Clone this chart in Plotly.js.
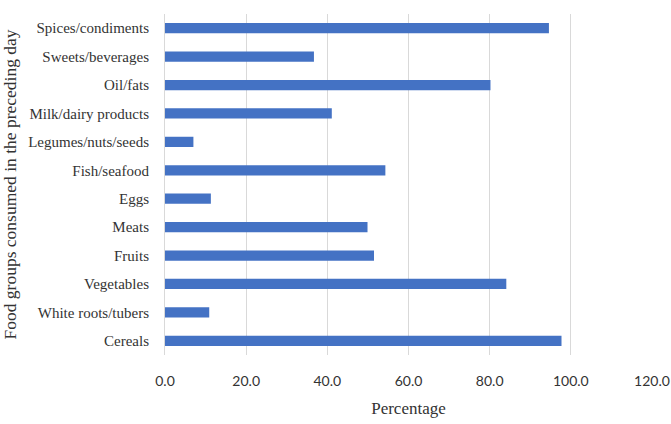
<!DOCTYPE html>
<html>
<head>
<meta charset="utf-8">
<script src="https://cdn.plot.ly/plotly-3.0.1.min.js"></script>
<style>
  html, body { margin: 0; padding: 0; background: #fff; }
  #myDiv { width: 671px; height: 424px; }
</style>
</head>
<body>
<div id="myDiv"></div>
<script>
// Food groups, listed bottom to top as drawn
const foodGroups = [
    'Cereals', 'White roots/tubers', 'Vegetables', 'Fruits', 'Meats', 'Eggs',
    'Fish/seafood', 'Legumes/nuts/seeds', 'Milk/dairy products', 'Oil/fats',
    'Sweets/beverages', 'Spices/condiments'
];
// Percentage consuming each group
const percentages = [97.7, 10.9, 84.1, 51.5, 49.9, 11.3, 54.3, 7.0, 41.1, 80.2, 36.7, 94.6];
const xTicks = [0, 20, 40, 60, 80, 100, 120];

const data = [{
    type: 'bar',
    orientation: 'h',
    y: foodGroups,
    x: percentages,
    width: 0.36,
    marker: { color: '#4472C4' },
    hoverinfo: 'x+y'
}];

const layout = {
    width: 671,
    height: 424,
    margin: { l: 165, r: 19, t: 14, b: 69 },
    paper_bgcolor: '#fff',
    plot_bgcolor: '#fff',
    showlegend: false,
    xaxis: {
        range: [0, 120],
        tickvals: xTicks,
        ticktext: xTicks.map(v => v.toFixed(1)),
        showgrid: true,
        gridcolor: '#d9d9d9',
        gridwidth: 1,
        zeroline: false,
        showline: false,
        ticks: '',
        ticklabelstandoff: 16,
        tickfont: { family: 'Lato, "Liberation Sans", sans-serif', size: 14, color: '#333' },
        title: {
            text: 'Percentage',
            font: { family: '"Liberation Serif", serif', size: 17, color: '#333' },
            standoff: 14
        },
        fixedrange: true
    },
    yaxis: {
        type: 'category',
        showgrid: false,
        zeroline: false,
        // the grey line at 0 on the value axis
        showline: true,
        linecolor: '#d9d9d9',
        linewidth: 1,
        ticks: '',
        ticklabelstandoff: 12,
        tickfont: { family: '"Liberation Serif", serif', size: 15, color: '#333' },
        title: {
            text: 'Food groups consumed in the preceding day',
            font: { family: '"Liberation Serif", serif', size: 17.5, color: '#333' },
            standoff: 8
        },
        fixedrange: true
    }
};

Plotly.newPlot('myDiv', data, layout, { displayModeBar: false, staticPlot: true });
</script>
</body>
</html>
